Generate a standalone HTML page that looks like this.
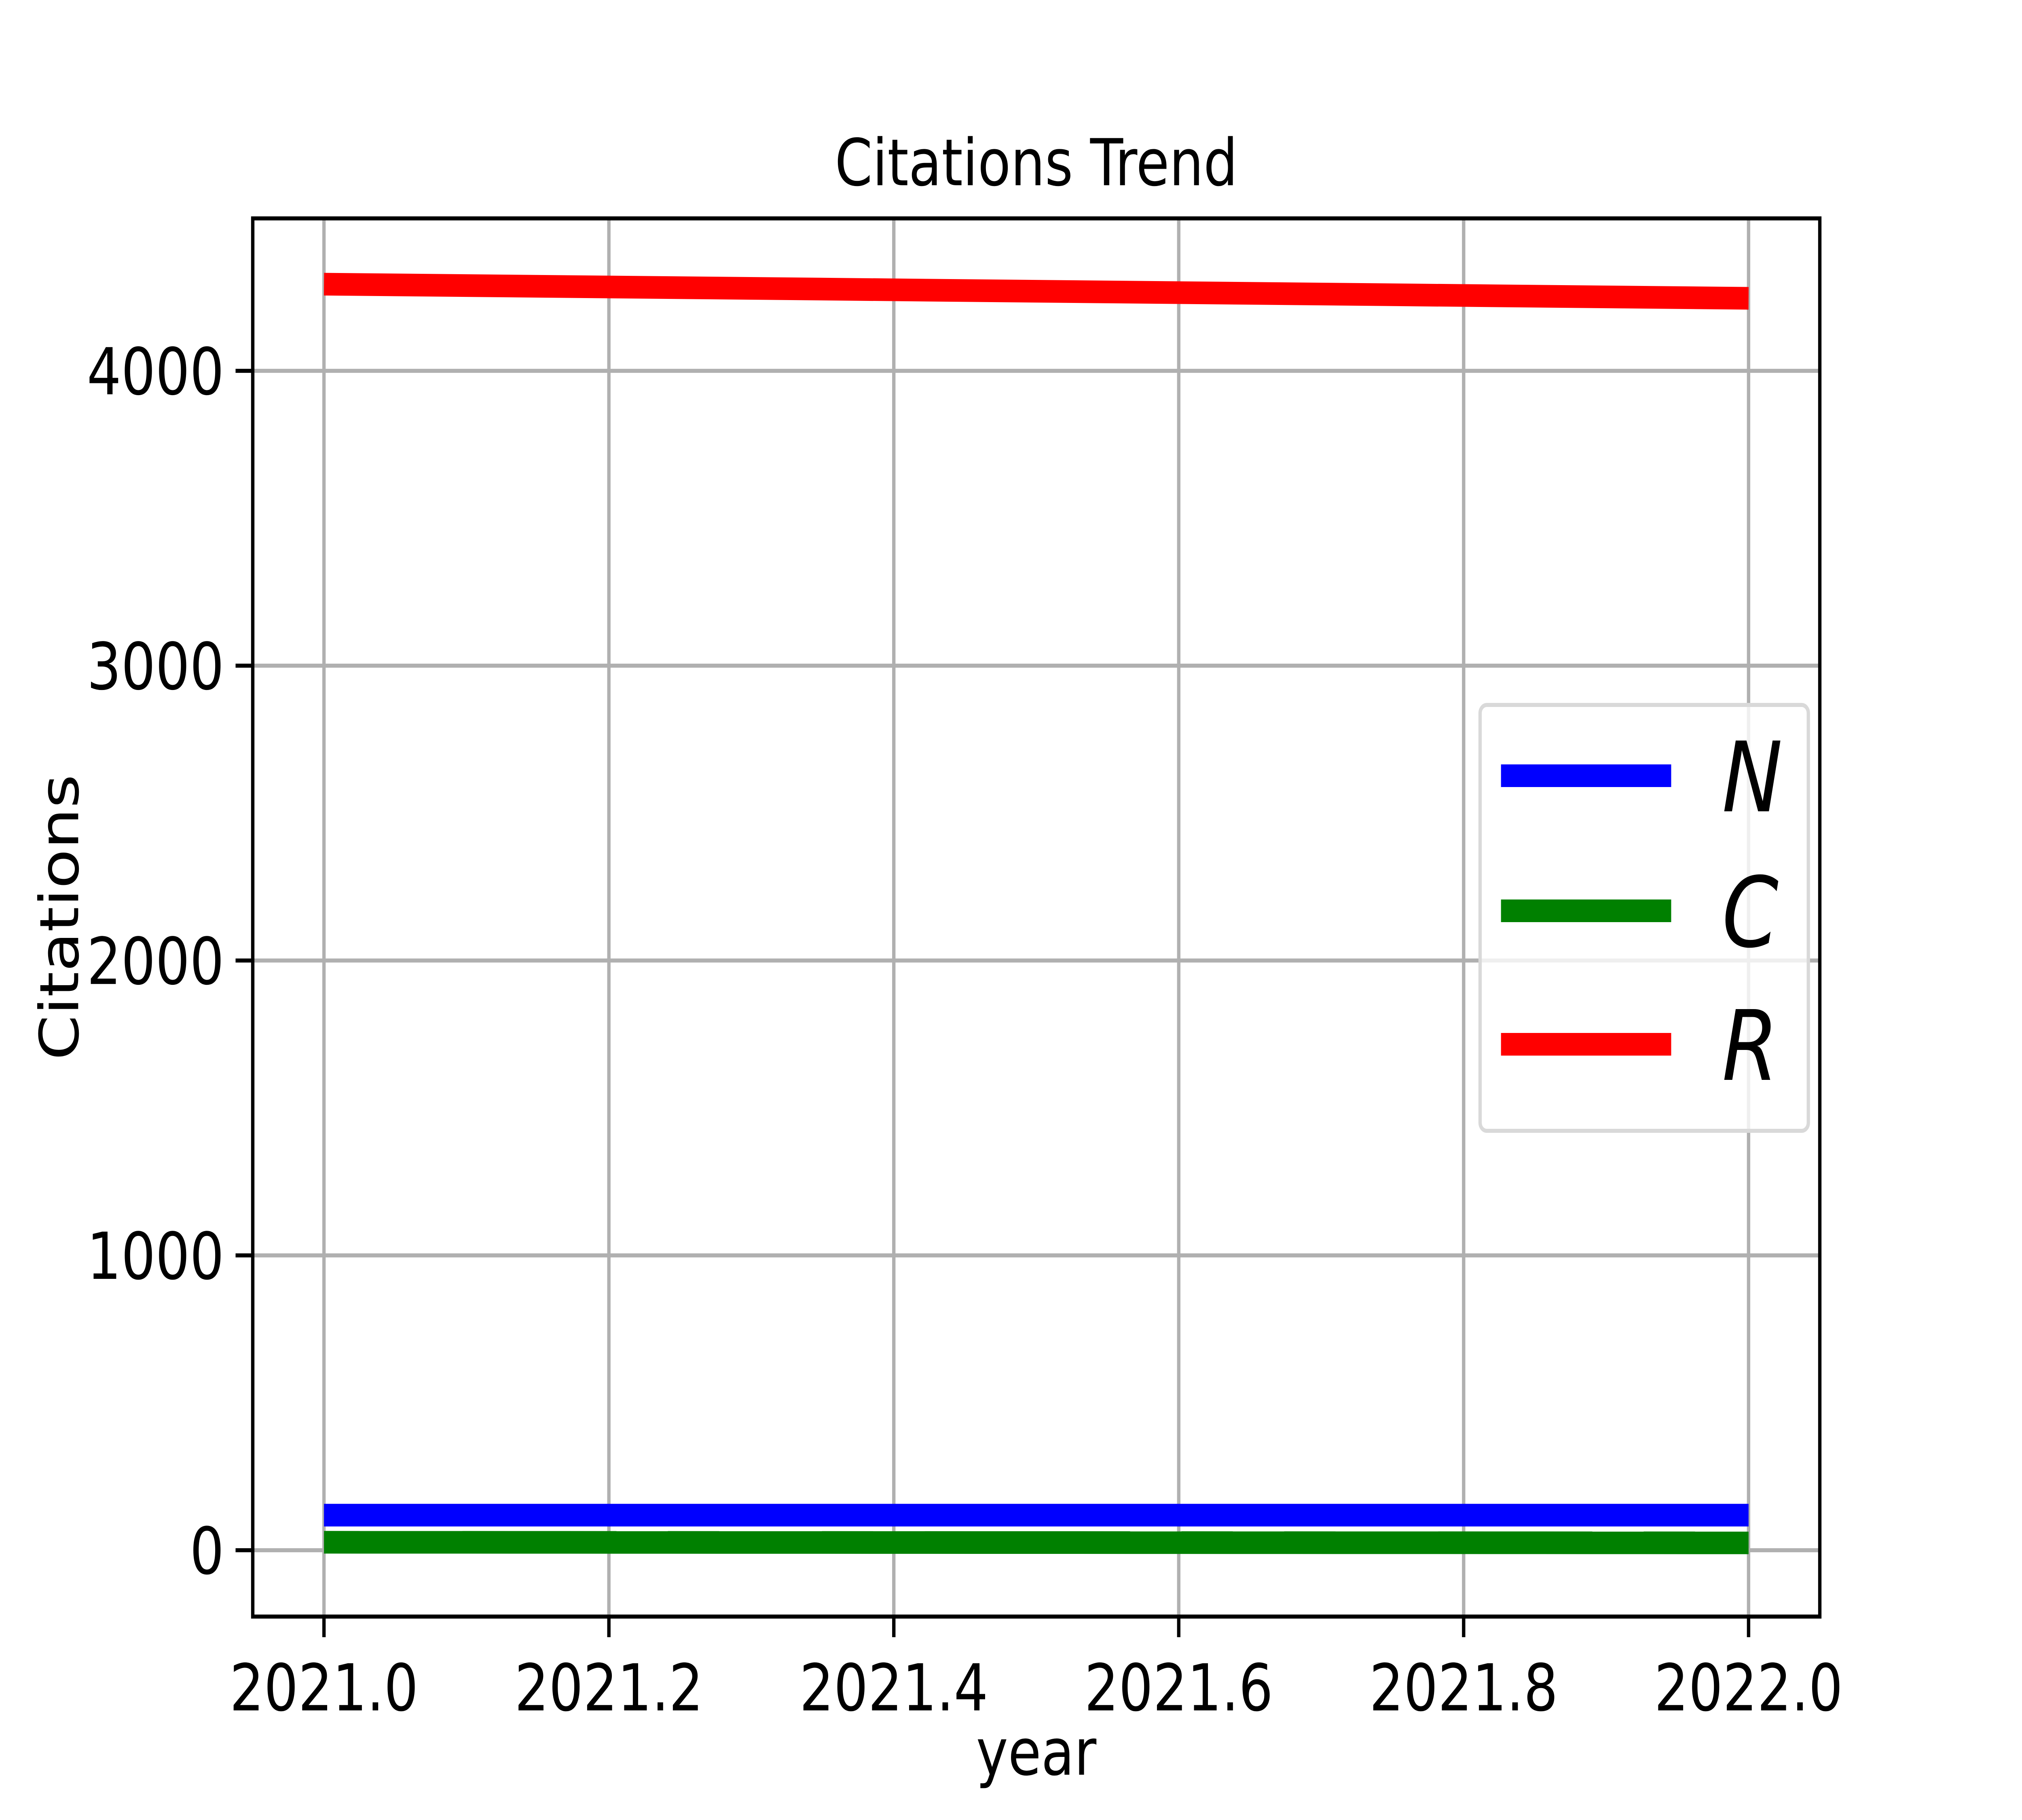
<!DOCTYPE html>
<html><head><meta charset="utf-8"><style>html,body{margin:0;padding:0;background:#fff;overflow:hidden;width:100vw;height:100vh}svg{display:block;width:100vw;height:100vh}text{font-family:"DejaVu Sans","Liberation Sans",sans-serif}</style></head>
<body>
<svg id="chart" xmlns="http://www.w3.org/2000/svg" viewBox="0 0 6000 4500" preserveAspectRatio="none">
<rect width="6000" height="4500" fill="#fff"/>
<g id="grid"></g>
<g id="series"></g>
<rect x="750" y="540" width="4650" height="3457" fill="none" stroke="#000" stroke-width="10"/>
<g id="ticks"></g>
<text x="3075" y="458" font-size="160" text-anchor="middle">Citations Trend</text>
<text x="3075" y="4388" font-size="160" text-anchor="middle">year</text>
<text x="0" y="0" font-size="160" text-anchor="middle" transform="translate(232,2268) rotate(-90)">Citations</text>
<g id="legend"></g>
</svg>
<script>
const years = [2021.0, 2022.0];
const seriesN = [119, 119];
const seriesC = [27, 25];
const seriesR = [4294, 4246];
const xTicks = [2021.0, 2021.2, 2021.4, 2021.6, 2021.8, 2022.0];
const xTickLabels = ["2021.0","2021.2","2021.4","2021.6","2021.8","2022.0"];
const yTicks = [0, 1000, 2000, 3000, 4000];
const yTickLabels = ["0","1000","2000","3000","4000"];
const seriesNames = ["N","C","R"];
const seriesColors = ["#0000ff","#008000","#ff0000"];

const NS = "http://www.w3.org/2000/svg";
const L=750,R=5400,T=540,B=3997;
const xmin=2020.95,xmax=2022.05,ymin=-225,ymax=4517;
const sx=v=>L+(v-xmin)/(xmax-xmin)*(R-L);
const sy=v=>B-(v-ymin)/(ymax-ymin)*(B-T);
function mk(tag,attrs,parent){const e=document.createElementNS(NS,tag);for(const k in attrs)e.setAttribute(k,attrs[k]);parent.appendChild(e);return e;}
const grid=document.getElementById('grid'),ticks=document.getElementById('ticks'),ser=document.getElementById('series'),leg=document.getElementById('legend');
xTicks.forEach((v,i)=>{
  const x=sx(v);
  const g=mk('line',{x1:x,x2:x,y1:T,y2:B,stroke:'#b0b0b0','stroke-width':10},grid);
  
  
  const t=mk('line',{x1:x,x2:x,y1:B,y2:B+51,stroke:'#000','stroke-width':10},ticks);
  
  
  const lb=mk('text',{x:x,y:4229,'font-size':160,'text-anchor':'middle'},ticks);
  lb.textContent=xTickLabels[i];
  
  
});
yTicks.forEach((v,i)=>{
  const y=sy(v);
  const g=mk('line',{x1:L,x2:R,y1:y,y2:y,stroke:'#b0b0b0','stroke-width':10},grid);
  
  
  const t=mk('line',{x1:L-51,x2:L,y1:y,y2:y,stroke:'#000','stroke-width':10},ticks);
  
  
  const lb=mk('text',{x:L-85,y:y+58,'font-size':160,'text-anchor':'end'},ticks);
  lb.textContent=yTickLabels[i];
  
  
});
[seriesN,seriesC,seriesR].forEach((vals,si)=>{
  const pts=years.map((yr,j)=>sx(yr)+','+sy(vals[j])).join(' ');
  const p=mk('polyline',{points:pts,fill:'none',stroke:seriesColors[si],'stroke-width':56},ser);
  
  
});
const box=mk('rect',{x:4392,y:1743,width:974,height:1053,rx:20,fill:'#fff','fill-opacity':0.8,stroke:'#d9d9d9','stroke-width':10},leg);


const ly=[1918,2252,2582];
seriesNames.forEach((n,i)=>{
  const l=mk('line',{x1:4454,x2:4959,y1:ly[i],y2:ly[i],stroke:seriesColors[i],'stroke-width':56},leg);
  
  
  const t=mk('text',{x:5110,y:ly[i]+88,'font-size':240,'font-style':'italic'},leg);
  t.textContent=n;
  
  
});
</script>
</body></html>
